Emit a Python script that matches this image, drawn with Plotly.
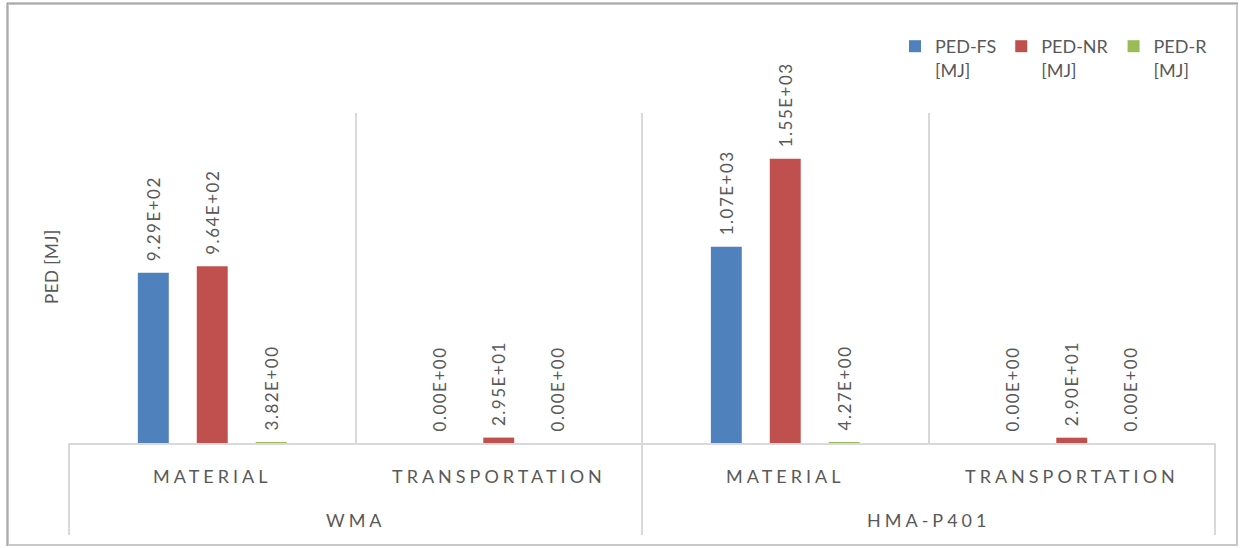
import plotly.graph_objects as go

# Product systems and life-cycle stages (two-level category axis)
systems = ["WMA", "WMA", "HMA-P401", "HMA-P401"]
stages = ["MATERIAL", "TRANSPORTATION", "MATERIAL", "TRANSPORTATION"]

# Primary energy demand per stage [MJ]
ped_fs = [929, 0.0, 1070, 0.0]
ped_nr = [964, 29.5, 1550, 29.0]
ped_r = [3.82, 0.0, 4.27, 0.0]

series = [
    ("PED-FS<br>[MJ]", ped_fs, "#4F81BD"),
    ("PED-NR<br>[MJ]", ped_nr, "#C0504D"),
    ("PED-R<br>[MJ]", ped_r, "#9BBB59"),
]

FONT = "Lato"
GRAY = "#595959"
GRID = "#D9D9D9"


def spaced(s, px):
    return f'<span style="letter-spacing:{px}px">{s}</span>'


fig = go.Figure()
for name, vals, color in series:
    fig.add_trace(go.Bar(
        name=name,
        x=[systems, stages],
        y=vals,
        marker=dict(color=color, line=dict(width=0)),
        # leading en space keeps the label clear of the bar end
        text=["\u2002" + spaced(f"{v:.2E}", 1.5) for v in vals],
        textposition="outside",
        textangle=-90,
        constraintext="none",
        cliponaxis=False,
        textfont=dict(family=FONT, size=17, color=GRAY),
    ))

# plot area spans x 69..1215 px, y 113..443 px
L, R, T, B = 69, 1215, 113, 443
W, H = 1241, 548


def px_x(p):
    return (p - L) / (R - L)


def px_y(p):
    return (B - p) / (B - T)


shapes = [
    # chart frame
    dict(type="rect", xref="paper", yref="paper",
         x0=px_x(8), x1=px_x(1237), y0=px_y(545), y1=px_y(4),
         line=dict(color="#C8C8C8", width=2)),
    dict(type="line", xref="paper", yref="paper",
         x0=px_x(7), x1=px_x(7), y0=px_y(546), y1=px_y(3),
         line=dict(color="#8C8C8C", width=1)),
    dict(type="line", xref="paper", yref="paper",
         x0=px_x(7), x1=px_x(1238), y0=px_y(3), y1=px_y(3),
         line=dict(color="#8C8C8C", width=1)),
]

annotations = [
    # value axis title
    dict(xref="paper", yref="paper", x=px_x(51), y=px_y(267),
         text=spaced("PED [MJ]", 0.5), textangle=-90, showarrow=False,
         xanchor="center", yanchor="middle",
         font=dict(family=FONT, size=17, color=GRAY)),
]
n = len(stages)
# stage labels under each category
for i, s in enumerate(stages):
    annotations.append(dict(
        xref="paper", yref="paper", x=(i + 0.5) / n, y=px_y(476),
        text=spaced(s, 4), showarrow=False, xanchor="center", yanchor="middle",
        font=dict(family=FONT, size=18, color=GRAY),
    ))

# system labels spanning their stages, with dividers at group boundaries
groups = []
for i, g in enumerate(systems):
    if groups and groups[-1][0] == g:
        groups[-1][2] = i + 1
    else:
        groups.append([g, i, i + 1])
for g, i0, i1 in groups:
    annotations.append(dict(
        xref="paper", yref="paper", x=(i0 + i1) / 2 / n, y=px_y(520),
        text=spaced(g, 4), showarrow=False, xanchor="center", yanchor="middle",
        font=dict(family=FONT, size=18, color=GRAY),
    ))
bounds = sorted({i0 for _, i0, _ in groups} | {i1 for _, _, i1 in groups})
for b in bounds:
    shapes.append(dict(
        type="line", xref="paper", yref="paper",
        x0=b / n, x1=b / n, y0=0, y1=px_y(535),
        line=dict(color=GRID, width=2),
    ))

fig.update_layout(
    width=W, height=H,
    margin=dict(l=L, r=W - R, t=T, b=H - B),
    paper_bgcolor="white",
    plot_bgcolor="white",
    font=dict(family=FONT, color=GRAY),
    barmode="group",
    bargap=0.383,
    bargroupgap=0.475,
    showlegend=True,
    legend=dict(
        orientation="h",
        x=px_x(895), y=px_y(28),
        xanchor="left", yanchor="top",
        font=dict(family=FONT, size=18, color=GRAY),
        valign="top",
        itemwidth=30,
        bgcolor="rgba(0,0,0,0)",
    ),
    xaxis=dict(
        type="multicategory",
        tickson="boundaries",
        showgrid=True,
        gridcolor=GRID,
        gridwidth=2,
        showline=True,
        linecolor=GRID,
        linewidth=2,
        ticks="",
        showdividers=False,
        showticklabels=False,
    ),
    yaxis=dict(
        range=[0, 1800],
        showgrid=False,
        zeroline=False,
        showticklabels=False,
    ),
    shapes=shapes,
    annotations=annotations,
)

fig.write_html("out.html")
